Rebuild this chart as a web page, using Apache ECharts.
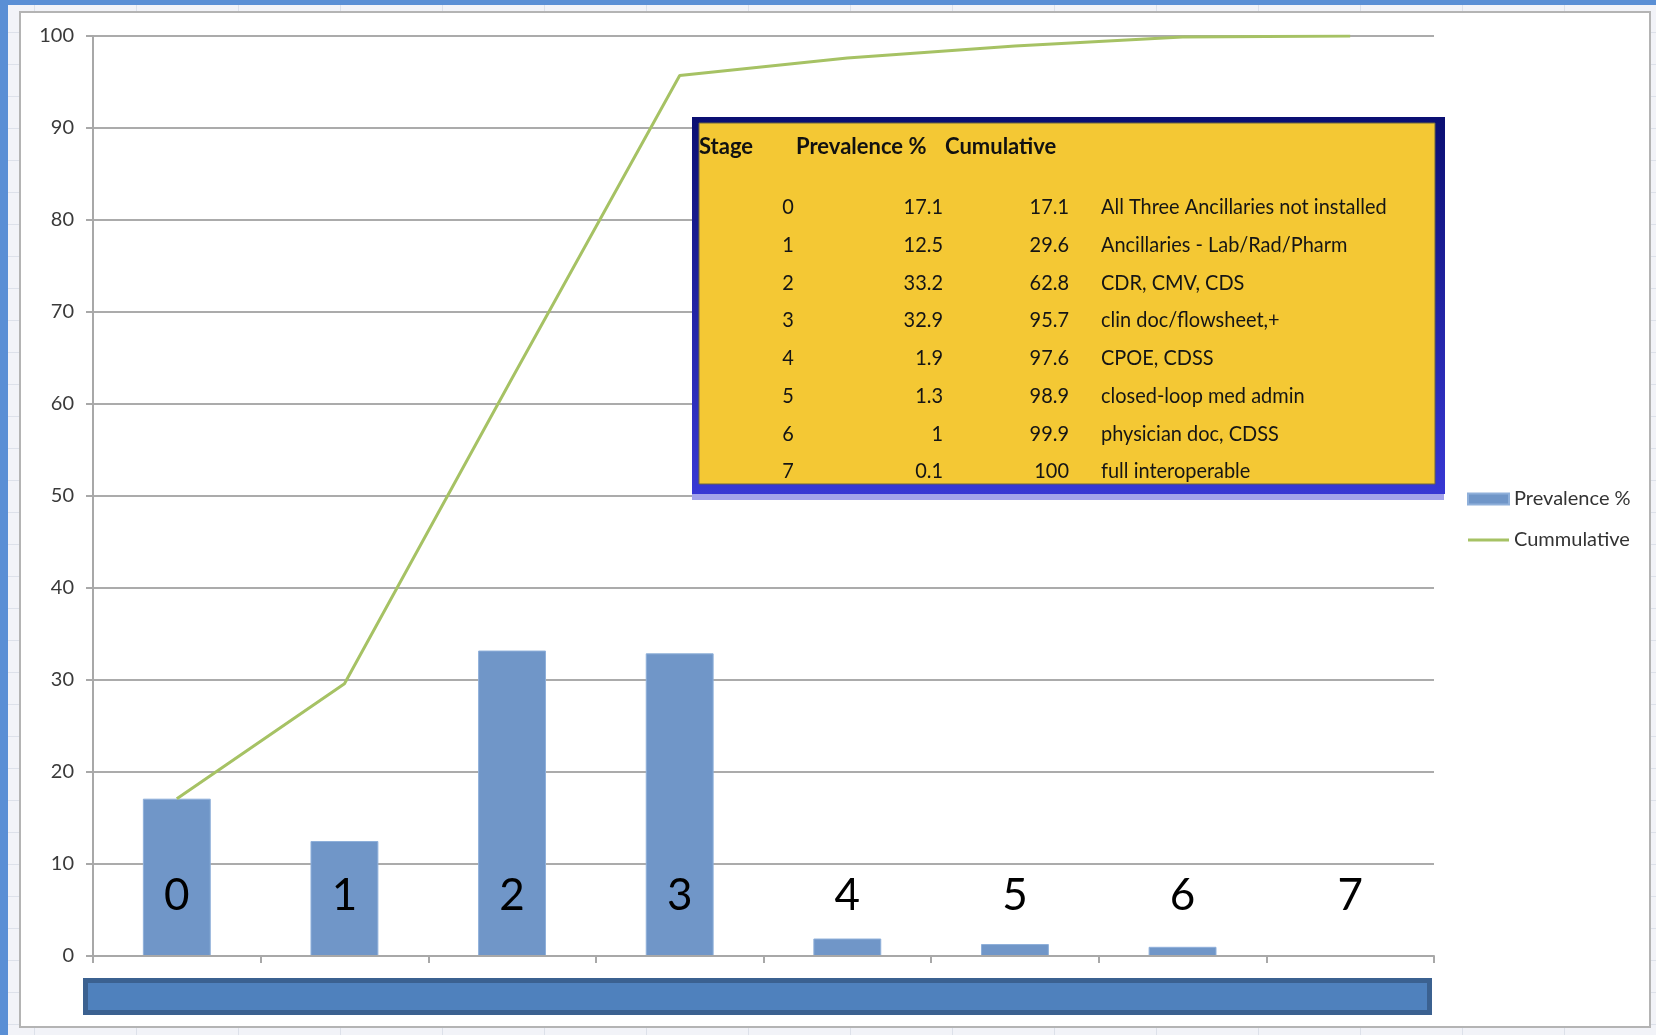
<!DOCTYPE html>
<html><head><meta charset="utf-8">
<script src="https://cdn.jsdelivr.net/npm/echarts@6/dist/echarts.min.js"></script>
<style>
html,body{margin:0;padding:0;width:1656px;height:1035px;overflow:hidden;}
body{background-color:#f2f3f8;background-image:linear-gradient(to right,#dde1ea 1px,transparent 1px),linear-gradient(to bottom,#dde1ea 1px,transparent 1px);background-size:102px 32px;background-position:34px 0px;position:relative;}
#topbar{position:absolute;left:0;top:0;width:1656px;height:5px;background:#5a8fd5;}
#leftbar{position:absolute;left:0;top:0;width:8px;height:1035px;background:#5a8fd5;}
#frame{position:absolute;left:19px;top:11px;width:1632px;height:1017px;background:#fff;border:2px solid #b4b4b4;box-sizing:border-box;}
#chart{position:absolute;left:0;top:0;width:1656px;height:1035px;}
#strip{position:absolute;left:83px;top:978px;width:1349px;height:37px;background:#4f81bd;border:5px solid #3b6190;box-sizing:border-box;}
</style></head>
<body>
<div id="topbar"></div><div id="leftbar"></div><div id="frame"></div>
<div id="strip"></div>
<div id="chart"></div>
<script>
// ---- data ----
const stages = ['0', '1', '2', '3', '4', '5', '6', '7'];
const prevalence = [17.1, 12.5, 33.2, 32.9, 1.9, 1.3, 1, 0.1];
const cumulative = [17.1, 29.6, 62.8, 95.7, 97.6, 98.9, 99.9, 100];
const descriptions = ['All Three Ancillaries not installed', 'Ancillaries - Lab/Rad/Pharm', 'CDR, CMV, CDS',
  'clin doc/flowsheet,+', 'CPOE, CDSS', 'closed-loop med admin', 'physician doc, CDSS', 'full interoperable'];
const tableHeaders = ['Stage', 'Prevalence %', 'Cumulative'];
const yTicks = [0, 10, 20, 30, 40, 50, 60, 70, 80, 90, 100];
const seriesNames = ['Prevalence %', 'Cummulative'];

// ---- table overlay (built from the arrays) ----
const FONT = 'Lato';
const els = [
  {type:'rect', shape:{x:692,y:117,width:753,height:377}, style:{fill:new echarts.graphic.LinearGradient(0,0,0,1,[{offset:0,color:'#0b0f72'},{offset:1,color:'#3838d4'}])}, z:100},
  {type:'rect', shape:{x:692,y:494,width:752,height:6}, style:{fill:'#a4a4ea'}, z:100},
  {type:'rect', shape:{x:699,y:123,width:736,height:361}, style:{fill:'#f4c834', stroke:'#6d6440', lineWidth:1}, z:101}
];
const hx = [699, 796, 945];
tableHeaders.forEach((h, i) => {
  els.push({type:'text', x:hx[i], y:147, scaleX:1.0, z:102,
    style:{text:h, font:'bold 22px ' + FONT, fill:'#111', align:'left', verticalAlign:'middle', textAlign:'left', textVerticalAlign:'middle'}});
});
stages.forEach((s, i) => {
  const y = 207.3 + i * 37.77;
  const cols = [[s, 788, 'center'], [String(prevalence[i]), 943, 'right'], [String(cumulative[i]), 1069, 'right'], [descriptions[i], 1101, 'left']];
  cols.forEach(c => {
    els.push({type:'text', x:c[1], y:y, scaleX:0.95, z:102,
      style:{text:c[0], font:'21px ' + FONT, fill:'#151515', align:c[2], verticalAlign:'middle', textAlign:c[2], textVerticalAlign:'middle'}});
  });
});

const chart = echarts.init(document.getElementById('chart'), null, {renderer:'canvas'});
chart.setOption({
  backgroundColor: 'transparent',
  animation: false,
  grid: {left:93, right:222, top:36, bottom:79, containLabel:false},
  legend: {
    orient:'vertical', left:1462, top:483, itemWidth:41, itemHeight:11, itemGap:19,
    textStyle:{fontFamily:FONT, fontSize:20, color:'#333', lineHeight:22},
    data:[{name:seriesNames[0], icon:'rect'}, {name:seriesNames[1], icon:'path://M0,0 H41 V3 H0 Z'}]
  },
  xAxis: {
    type:'category', data:stages, boundaryGap:true, z:10,
    axisLine:{show:true, lineStyle:{color:'#a8a8a8', width:2}},
    axisTick:{show:true, alignWithLabel:false, length:7, lineStyle:{color:'#a8a8a8', width:2}},
    axisLabel:{inside:true, margin:38, fontFamily:FONT, fontSize:44, color:'#000'},
    splitLine:{show:false}
  },
  yAxis: {
    type:'value', min:yTicks[0], max:yTicks[yTicks.length-1], interval:10,
    axisLine:{show:true, lineStyle:{color:'#a8a8a8', width:2}},
    axisTick:{show:true, length:7, lineStyle:{color:'#a8a8a8', width:2}},
    axisLabel:{margin:19, fontFamily:FONT, fontSize:20, color:'#3a3a3a'},
    splitLine:{show:true, lineStyle:{color:'#ababab', width:2}}
  },
  series: [
    {name:seriesNames[0], type:'bar', data:prevalence, barWidth:'40.5%',
     itemStyle:{color:'#7096c8', borderColor:'#8fb0da', borderWidth:1}, z:2},
    {name:seriesNames[1], type:'line', data:cumulative, symbol:'none', showSymbol:false,
     lineStyle:{color:'#a6c264', width:3}, itemStyle:{color:'#a6c264'}, z:3}
  ],
  graphic: {elements: els}
});
</script>
</body></html>
